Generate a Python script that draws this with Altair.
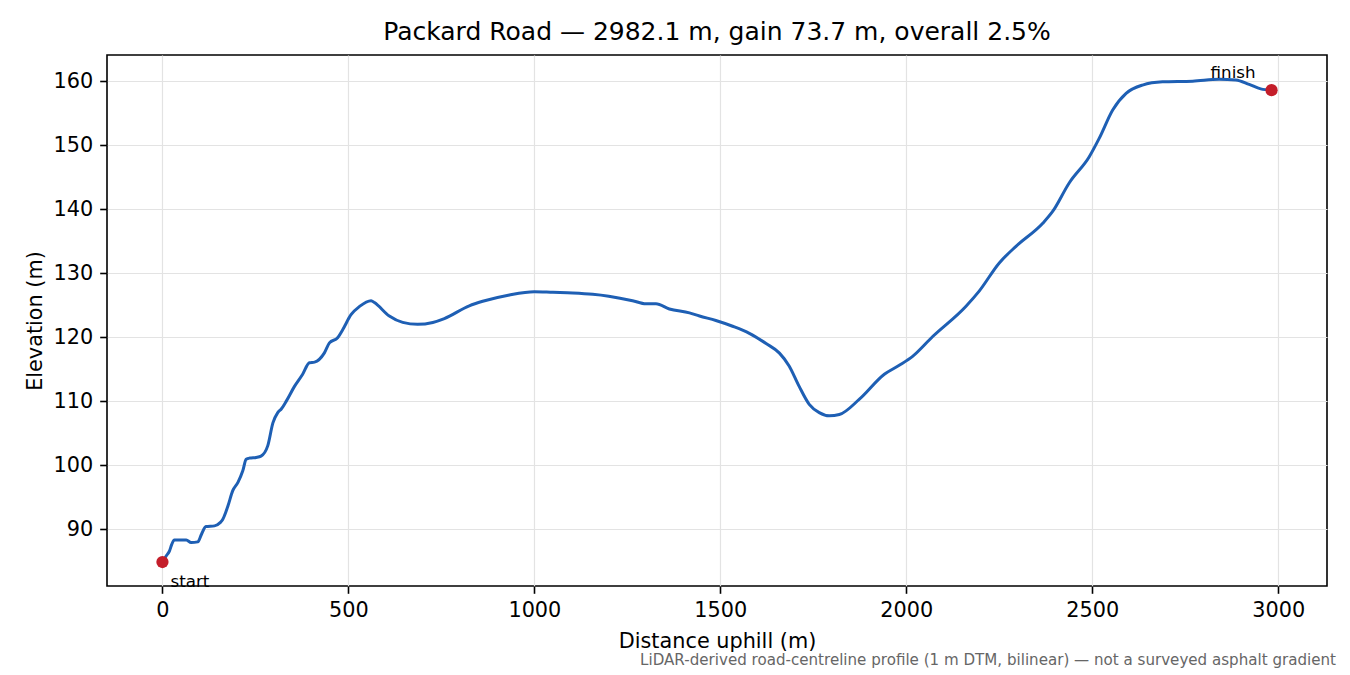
import pandas as pd
import altair as alt

# elevation profile
distance = [0, 10, 19, 25, 32, 45, 64, 77, 95, 105, 117, 140, 155, 162, 170, 176,
            189, 203, 216, 225, 235, 252, 265, 283, 297, 310, 320, 333, 355, 377,
            395, 409, 435, 449, 471, 485, 507, 530, 561, 570, 610, 646, 686, 727,
            758, 825, 861, 933, 1000, 1050, 1103, 1157, 1200, 1264, 1300, 1327,
            1363, 1417, 1444, 1488, 1533, 1578, 1623, 1659, 1685, 1712, 1739, 1766,
            1793, 1820, 1874, 1941, 1981, 2017, 2071, 2160, 2196, 2250, 2295, 2367,
            2393, 2438, 2492, 2519, 2555, 2591, 2635, 2689, 2770, 2841, 2886, 2922,
            2953, 2982.1]
elevation = [84.85, 85.8, 86.6, 87.6, 88.3, 88.3, 88.3, 87.9, 88.0, 89.2, 90.4, 90.5,
             91.0, 91.5, 92.6, 93.6, 96.0, 97.3, 99.1, 100.9, 101.1, 101.2, 101.4,
             103.0, 106.6, 108.2, 108.8, 110.0, 112.3, 114.2, 116.0, 116.1, 117.5,
             119.1, 119.9, 121.2, 123.5, 124.8, 125.7, 125.4, 123.3, 122.3, 122.0,
             122.3, 122.9, 124.9, 125.6, 126.6, 127.1, 127.0, 126.9, 126.7, 126.4,
             125.7, 125.2, 125.2, 124.4, 123.8, 123.3, 122.6, 121.7, 120.6, 119.0,
             117.5, 115.5, 112.3, 109.5, 108.2, 107.7, 107.9, 110.3, 114.2, 115.6,
             117.0, 120.1, 124.8, 127.2, 131.6, 134.2, 137.8, 139.6, 144.1, 148.2,
             151.1, 155.5, 158.1, 159.4, 159.9, 160.0, 160.3, 160.2, 159.5, 158.8,
             158.6]

end_labels = ["start", "finish"]
end_distance = [0, 2982.1]
end_elevation = [84.85, 158.6]

x_ticks = [0, 500, 1000, 1500, 2000, 2500, 3000]
y_ticks = [90, 100, 110, 120, 130, 140, 150, 160]

title = "Packard Road \u2014 2982.1 m, gain 73.7 m, overall 2.5%"
note = "LiDAR-derived road-centreline profile (1 m DTM, bilinear) \u2014 not a surveyed asphalt gradient"

profile = pd.DataFrame({"d": distance, "z": elevation})
ends = pd.DataFrame({"d": end_distance, "z": end_elevation, "label": end_labels})

FONT = "DejaVu Sans"
BLUE = "#1e5fb4"
RED = "#c41e2a"

x = alt.X("d:Q", title="Distance uphill (m)",
          scale=alt.Scale(domain=[-149.1, 3131.2], nice=False, zero=False),
          axis=alt.Axis(values=x_ticks, format="d"))
y = alt.Y("z:Q", title="Elevation (m)",
          scale=alt.Scale(domain=[81.1, 164.1], nice=False, zero=False),
          axis=alt.Axis(values=y_ticks, format="d"))

line = (alt.Chart(profile)
    .mark_line(color=BLUE, strokeWidth=3, interpolate="monotone")
    .encode(x=x, y=y))

dots = alt.Chart(ends).mark_circle(color=RED, size=150, opacity=1).encode(x=x, y=y)

start_text = (alt.Chart(ends).transform_filter(alt.datum.label == "start")
    .mark_text(align="left", baseline="alphabetic", dx=8, dy=25,
               font=FONT, fontSize=16.7, color="black")
    .encode(x=x, y=y, text="label:N"))

finish_text = (alt.Chart(ends).transform_filter(alt.datum.label == "finish")
    .mark_text(align="right", baseline="alphabetic", dx=-16, dy=-12,
               font=FONT, fontSize=16.7, color="black")
    .encode(x=x, y=y, text="label:N"))

footer = (alt.Chart(pd.DataFrame({"note": [note]}))
    .mark_text(align="right", baseline="middle", font=FONT, fontSize=15.1, color="#666666")
    .encode(x=alt.value(1229), y=alt.value(605), text="note:N"))

chart = (alt.layer(line, dots, start_text, finish_text, footer)
    .properties(
        width=1220, height=531,
        title=alt.TitleParams(title, font=FONT, fontSize=25, fontWeight="normal",
                              color="black", anchor="middle", offset=10),
        autosize=alt.AutoSizeParams(type="none"),
        padding={"left": 99, "top": 47, "right": 15, "bottom": 85})
    .configure_view(stroke="black", strokeWidth=1.6)
    .configure_axis(
        domain=False, grid=True, gridColor="#e3e3e3", gridWidth=1.2,
        ticks=True, tickColor="black", tickSize=7.3, tickWidth=1.6,
        labelFont=FONT, labelFontSize=20.8, labelColor="black", labelPadding=7,
        labelFlush=False, labelOverlap=False,
        titleFont=FONT, titleFontSize=20.8, titleFontWeight="normal", titleColor="black")
    .configure_axisX(titlePadding=11)
    .configure_axisY(titlePadding=8))

chart.save("out.html", embed_options={"renderer": "svg", "actions": False})
